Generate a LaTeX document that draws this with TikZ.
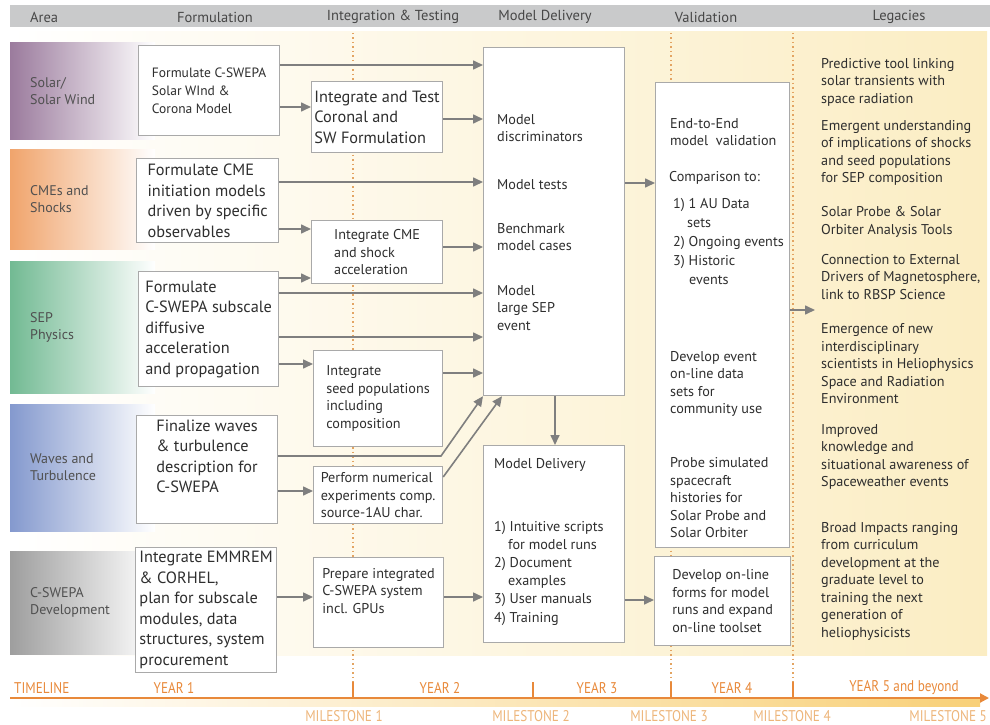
\documentclass[tikz,border=0pt]{standalone}
\usepackage{fontspec}
\setmainfont{PT Sans}
\newfontfamily\condfont[FakeStretch=0.85]{PT Sans}
\usetikzlibrary{arrows.meta,calc}

\definecolor{hdrgray}{HTML}{C9CACB}
\definecolor{hdrtext}{HTML}{474747}
\definecolor{txtgray}{HTML}{2E2E2E}
\definecolor{lblgray}{HTML}{505050}
\definecolor{boxgray}{HTML}{A9A9A9}
\definecolor{arrgray}{HTML}{7F7F7F}
\definecolor{bgcream}{HTML}{FBEDC3}
\definecolor{bgmid}{HTML}{FDF4DD}
\definecolor{dotorange}{HTML}{E3A462}
\definecolor{tlorange}{HTML}{E8893A}
\definecolor{msorange}{HTML}{EDB57A}
\definecolor{tlyellow}{HTML}{F8D078}
\definecolor{bandpurple}{HTML}{9B7B9D}
\definecolor{bandorange}{HTML}{F0A46C}
\definecolor{bandgreen}{HTML}{72BA93}
\definecolor{bandblue}{HTML}{8499CE}
\definecolor{bandgray}{HTML}{9E9E9E}

\newcommand{\smallsz}{\fontsize{14.2}{17.5}\selectfont}
\newcommand{\largesz}{\fontsize{16.3}{20.5}\selectfont}

\begin{document}
\begin{tikzpicture}[x=1pt,y=-1pt,
  box/.style={draw=boxgray,line width=1.2pt,fill=white,anchor=north west,
    align=left,inner sep=0pt,text=txtgray,font=\smallsz},
  big/.style={font=\largesz},
  txt/.style={anchor=west,align=left,inner sep=0pt,text=txtgray,font=\smallsz},
  area/.style={anchor=west,align=left,inner sep=0pt,text=lblgray,
    font=\fontsize{14}{17}\selectfont},
  hdr/.style={inner sep=0pt,text=hdrtext,font=\fontsize{14.5}{17}\selectfont},
  arr/.style={draw=arrgray,line width=1.6pt,-{Triangle[length=10pt,width=9pt]}},
  dotline/.style={draw=dotorange,line width=1.2pt,dash pattern=on 1.5pt off 3pt},
  tl/.style={inner sep=0pt,text=tlorange,font=\condfont\fontsize{15.5}{17}\selectfont},
  ms/.style={inner sep=0pt,text=msorange,font=\condfont\fontsize{15.5}{17}\selectfont}]
\useasboundingbox (0,0) rectangle (990,725);

% Background
\shade[left color=white,middle color=bgmid,right color=bgcream] (10,32) rectangle (987,655);

% Header
\fill[hdrgray] (10,5) rectangle (990,27);
\node[hdr,anchor=west] (h0) at (30,17) {Area};
\node[hdr] (h1) at (215,17) {Formulation};
\node[hdr] (h2) at (393,17) {Integration \& Testing};
\node[hdr] (h3) at (545,17) {Model Delivery};
\node[hdr] (h4) at (706,17) {Validation};
\node[hdr] (h5) at (899,17) {Legacies};

% Area bands
\foreach \i/\c/\ya/\yb/\t in {1/bandpurple/43/139/{Solar/\\Solar Wind},
    2/bandorange/149/249/{CMEs and\\Shocks},
    3/bandgreen/261/393/{SEP\\Physics},
    4/bandblue/404/531/{Waves and\\Turbulence},
    5/bandgray/551/654/{C-SWEPA\\Development}}{
  \shade[left color=\c,right color=white] (10,\ya) rectangle (155,\yb);
  \node[area] (area\i) at (30,{(\ya+\yb)/2}) {\t};
}

% Milestone grid
\foreach \x in {353,671,793}
  \draw[dotline] (\x,33) -- (\x,684);

% Formulation
\node[box,minimum width=141,minimum height=90,font=\fontsize{13.5}{18}\selectfont] (F1) at (138,45)
  {Formulate C-SWEPA\\Solar WInd \&\\Corona Model};
\node[box,big,minimum width=142,minimum height=84] (F2) at (136,158)
  {Formulate CME\\initiation models\\driven by specific\\observables};
\node[box,big,minimum width=140,minimum height=115] (F3) at (138,271)
  {Formulate\\C-SWEPA subscale\\diffusive\\acceleration\\and propagation};
\node[box,big,minimum width=141,minimum height=108] (F4) at (136,415)
  {Finalize waves\\\& turbulence\\description for\\C-SWEPA\\[6pt]};
\node[box,big,minimum width=141,minimum height=125] (F5) at (135,547)
  {Integrate EMMREM\\\& CORHEL,\\plan for subscale\\modules, data\\structures, system\\procurement};

% Integration & Testing
\node[box,big,minimum width=131,minimum height=71] (I1) at (311,81)
  {Integrate and Test\\Coronal and\\SW Formulation};
\node[box,minimum width=131,minimum height=63] (I2) at (311,220)
  {Integrate CME\\and shock\\acceleration};
\node[box,minimum width=129,minimum height=96] (I3) at (313,350)
  {Integrate\\seed populations\\including\\composition};
\node[box,minimum width=129,minimum height=57] (I4) at (313,466)
  {Perform numerical\\experiments comp.\\source-1AU char.};
\node[box,minimum width=130,minimum height=90] (I5) at (313,557)
  {Prepare integrated\\C-SWEPA system\\incl. GPUs\\[6pt]};

% Model Delivery
\node[box,minimum width=141,minimum height=348] (M1) at (483,47) {};
\node[txt] (m1a) at (497,128) {Model\\discriminators};
\node[txt] (m1b) at (497,185) {Model tests};
\node[txt] (m1c) at (497,237) {Benchmark\\model cases};
\node[txt] (m1d) at (497,308) {Model\\large SEP\\event};
\node[box,minimum width=141,minimum height=197] (M2) at (483,445) {};
\node[txt] (m2a) at (494,465) {Model Delivery};
\node[txt,font=\fontsize{14.2}{18.2}\selectfont] (m2b) at (494,573)
  {1) Intuitive scripts\\\hspace*{14pt}for model runs\\2) Document\\\hspace*{14pt}examples\\3) User manuals\\4) Training};

% Validation
\node[box,minimum width=134,minimum height=465] (V1) at (655,82) {};
\node[txt] (v1a) at (670,132) {End-to-End\\model\ \ validation};
\node[txt] (v1b) at (669,178) {Comparison to:};
\node[txt,font=\fontsize{14.2}{19}\selectfont] (v1c) at (673,242)
  {1) 1 AU Data\\\hspace*{14pt}sets\\2) Ongoing events\\3) Historic\\\hspace*{16pt}events};
\node[txt] (v1d) at (670,384) {Develop event\\on-line data\\sets for\\community use};
\node[txt] (v1e) at (670,498) {Probe simulated\\spacecraft\\histories for\\Solar Probe and\\Solar Orbiter};
\node[box,minimum width=136,minimum height=89] (V2) at (654,556)
  {Develop on-line\\forms for model\\runs and expand\\on-line toolset};

% Legacies
\node[txt] (leg1) at (821,82) {Predictive tool linking\\solar transients with\\space radiation};
\node[txt] (leg2) at (821,153) {Emergent understanding\\of implications of shocks\\and seed populations\\for SEP composition};
\node[txt] (leg3) at (821,222) {Solar Probe \& Solar\\Orbiter Analysis Tools};
\node[txt] (leg4) at (821,277) {Connection to External\\Drivers of Magnetosphere,\\link to RBSP Science};
\node[txt] (leg5) at (821,364) {Emergence of new\\interdisciplinary\\scientists in Heliophysics\\Space and Radiation\\Environment};
\node[txt] (leg6) at (821,457) {Improved\\knowledge and\\situational awareness of\\Spaceweather events};
\node[txt] (leg7) at (821,581) {Broad Impacts ranging\\from curriculum\\development at the\\graduate level to\\training the next\\generation of\\heliophysicists};
\coordinate (legin) at (815,310);

% Connectors
\foreach \a/\b/\y in {F1/M1/65,F1/I1/107,I1/M1/119,F2/M1/182,F2/I2/229,I2/M1/247,
    F3/I2/278,F3/M1/293,F3/M1/337,F3/I3/364,I3/M1/373,F4/I4/491,F5/I5/597,
    I5/M2/597,M1/V1/183,M2/V2/600}
  \draw[arr] (\a.east |- 0,\y) -- (\b.west |- 0,\y);
\coordinate (bend) at (441,456);
\draw[arr] (F4.east |- bend) -- (bend) -- (M1.south west);
\draw[arr] (I4.east |- 0,477) -- ($(M1.south west)+(19,0)$);
\draw[arr] (M1.south -| 555,0) -- (M2.north -| 555,0);
\draw[arr] (V1.east |- legin) -- (legin);

% Timeline
\shade[left color=white,right color=tlyellow] (10,698) rectangle (980,706);
\draw[tlorange,line width=2pt,-{Triangle[length=9pt,width=9pt]}] (10,698) -- (989,698);
\foreach \x in {353,533,671,793}
  \draw[tlorange,line width=1.2pt] (\x,682) -- (\x,699);
\node[tl,anchor=west] (t0) at (14,688) {TIMELINE};
\node[tl] (t1) at (174,688) {YEAR 1};
\node[tl] (t2) at (440,688) {YEAR 2};
\node[tl] (t3) at (597,688) {YEAR 3};
\node[tl] (t4) at (732,688) {YEAR 4};
\node[tl] (t5) at (904,688) {YEAR 5 and beyond};
\node[ms] (s1) at (344,716) {MILESTONE 1};
\node[ms] (s2) at (531,716) {MILESTONE 2};
\node[ms] (s3) at (669,716) {MILESTONE 3};
\node[ms] (s4) at (792,716) {MILESTONE 4};
\node[ms,anchor=east] (s5) at (987,716) {MILESTONE 5};

\end{tikzpicture}
\end{document}
